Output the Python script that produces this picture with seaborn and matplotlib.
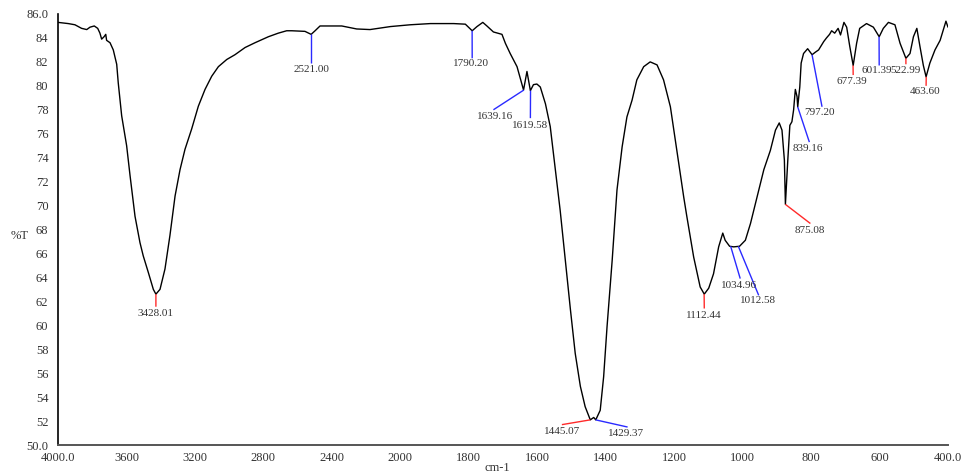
import numpy as np
import matplotlib
matplotlib.use("Agg")
import matplotlib.pyplot as plt
import seaborn as sns

# FT-IR transmission spectrum (wavenumber in cm-1, transmittance in %T)
wavenumber = [
    4000, 3940, 3901, 3862, 3832, 3813, 3788, 3768, 3755, 3745, 3731, 3721, 3716,
    3696, 3677, 3657, 3648, 3628, 3599, 3579, 3550, 3521, 3502, 3472, 3443, 3428,
    3404, 3375, 3346, 3316, 3287, 3258, 3219, 3180, 3141, 3102, 3063, 3014, 2966,
    2907, 2849, 2771, 2713, 2664, 2634, 2557, 2521, 2498, 2469, 2401, 2342, 2255,
    2177, 2058, 1971, 1912, 1844, 1810, 1790, 1776, 1759, 1747, 1728, 1703, 1693,
    1679, 1659, 1640, 1630, 1620, 1611, 1601, 1591, 1576, 1562, 1547, 1533, 1518,
    1503, 1489, 1474, 1460, 1445, 1435, 1429, 1416, 1406, 1396, 1381, 1367, 1352,
    1338, 1323, 1309, 1289, 1270, 1250, 1231, 1211, 1192, 1172, 1163, 1143, 1124,
    1112, 1099, 1085, 1070, 1058, 1051, 1038, 1026, 1009, 992, 977, 958, 938, 919,
    904, 893, 885, 878, 875, 868, 862, 856, 851, 846, 841, 839, 833, 829, 822, 810,
    797, 788, 778, 763, 755, 746, 740, 731, 721, 714, 704, 696, 687, 677, 667, 658,
    638, 618, 601, 589, 574, 555, 540, 523, 511, 501, 491, 482, 472, 464, 453, 438,
    423, 406, 400,
]
transmittance = [
    85.3, 85.2, 85.1, 84.8, 84.7, 84.9, 85.0, 84.8, 84.4, 83.9, 84.1, 84.3, 83.8,
    83.6, 83.0, 81.8, 80.25, 77.5, 75.0, 72.5, 69.1, 66.9, 65.8, 64.4, 63.0, 62.6,
    63.0, 64.7, 67.5, 70.8, 73.0, 74.7, 76.4, 78.3, 79.7, 80.8, 81.6, 82.2, 82.6,
    83.2, 83.6, 84.1, 84.4, 84.6, 84.6, 84.55, 84.3, 84.6, 85.0, 85.0, 85.0, 84.75,
    84.7, 84.95, 85.1, 85.2, 85.2, 85.15, 84.6, 84.95, 85.3, 85.0, 84.5, 84.3, 83.55,
    82.7, 81.6, 79.65, 81.2, 79.6, 80.1, 80.15, 79.9, 78.5, 76.6, 73.0, 69.6, 65.45,
    61.3, 57.65, 54.9, 53.2, 52.1, 52.3, 52.1, 52.9, 55.7, 59.9, 65.45, 71.3, 74.9,
    77.4, 78.8, 80.5, 81.6, 82.0, 81.75, 80.5, 78.25, 74.6, 70.7, 69.1, 65.7, 63.2,
    62.6, 63.1, 64.3, 66.55, 67.7, 67.1, 66.6, 66.55, 66.6, 67.1, 68.5, 70.7, 73.0, 74.6,
    76.3, 76.9, 76.3, 73.8, 70.1, 73.8, 76.7, 77.0, 78.0, 79.7, 79.1, 78.25, 79.9, 81.9, 82.7, 83.1,
    82.6, 82.8, 83.0, 83.7, 84.0, 84.3, 84.6, 84.4, 84.8, 84.25, 85.3, 84.9, 83.3, 81.7, 83.55, 84.8,
    85.2, 84.9, 84.1, 84.8, 85.3, 85.1, 83.55, 82.3, 82.7, 84.1, 84.8, 83.3, 81.7, 80.75, 81.9, 83.0,
    83.8, 85.4, 84.9,
]

# Labelled peaks: position text and transmittance at the peak
peak_labels = ["3428.01", "2521.00", "1790.20", "1639.16", "1619.58", "1445.07",
               "1429.37", "1112.44", "1034.96", "1012.58", "875.08", "839.16",
               "797.20", "677.39", "601.39", "522.99", "463.60"]
peak_T = [62.6, 84.3, 84.6, 79.65, 79.6, 52.1, 52.1, 62.6, 66.6, 66.6, 70.1,
          78.25, 82.6, 81.7, 84.1, 82.3, 80.75]
peak_color = ["r", "b", "b", "b", "b", "r", "b", "r", "b", "b", "r", "b", "b",
              "r", "b", "r", "r"]

# Leader-line end (wavenumber, %T) and label centre (wavenumber, %T)
leader_end = [(3428, 61.55), (2521, 81.9), (1790, 82.3), (1728, 78.0), (1620, 77.3),
              (1528, 51.7), (1336, 51.5), (1112, 61.4), (1007, 63.9), (953, 62.5),
              (802, 68.5), (805, 75.3), (768, 78.25), (677, 80.9), (601, 81.7),
              (523, 81.8), (464, 80.0)]
label_pos = [(3428, 61.0), (2521, 81.4), (1793, 81.9), (1722, 77.4), (1620, 76.7),
             (1528, 51.1), (1340, 51.0), (1114, 60.85), (1009, 63.3), (956, 62.05),
             (805, 67.95), (808, 74.8), (774, 77.8), (681, 80.4), (608, 81.3),
             (525, 81.3), (466, 79.5)]

x_ticks = [4000, 3600, 3200, 2800, 2400, 2000, 1800, 1600, 1400, 1200, 1000, 800, 600, 400]
x_ticklabels = ["4000.0", "3600", "3200", "2800", "2400", "2000", "1800", "1600",
                "1400", "1200", "1000", "800", "600", "400.0"]
y_ticks = list(range(50, 87, 2))
y_ticklabels = ["50.0"] + [str(v) for v in y_ticks[1:-1]] + ["86.0"]

sns.set_style("white")
plt.rcParams["font.family"] = ["Liberation Serif", "DejaVu Serif"]

fig = plt.figure(figsize=(9.63, 4.76), dpi=100)
ax = fig.add_axes([58 / 963, 31 / 476, 890 / 963, 431 / 476])

sns.lineplot(x=wavenumber, y=transmittance, ax=ax, sort=False, estimator=None,
             color="black", linewidth=1.0)


# Spectrometer-style axis: the region below 2000 cm-1 is expanded twofold
def _fwd(x):
    x = np.asarray(x, dtype=float)
    return np.where(x > 2000, 2000 + (x - 2000) / 2.0, x)


def _inv(u):
    u = np.asarray(u, dtype=float)
    return np.where(u > 2000, 2000 + 2.0 * (u - 2000), u)


ax.set_xscale("function", functions=(_fwd, _inv))
ax.set_xlim(4000, 400)
ax.set_ylim(50, 86)

colors = {"r": "#ff2a2a", "b": "#2a2aff"}
for lab, ty, c, (ex, ey), (lx, ly) in zip(peak_labels, peak_T, peak_color,
                                          leader_end, label_pos):
    px = float(lab)
    ax.plot([px, ex], [ty, ey], color=colors[c], lw=1.0, solid_capstyle="butt")
    ax.text(lx, ly, lab, ha="center", va="center", fontsize=8, color="#333333")

ax.set_xticks(x_ticks)
ax.set_xticklabels(x_ticklabels)
ax.set_yticks(y_ticks)
ax.set_yticklabels(y_ticklabels)
ax.minorticks_off()
ax.tick_params(axis="both", labelsize=9, labelcolor="#333333", color="#333333",
               length=3, width=1.0)
ax.tick_params(axis="x", direction="inout", length=4, pad=3)
ax.tick_params(axis="y", direction="out", pad=4)

for side in ("top", "right"):
    ax.spines[side].set_visible(False)
ax.spines["left"].set_color("black")
ax.spines["left"].set_linewidth(1.2)
ax.spines["bottom"].set_color("#555555")
ax.spines["bottom"].set_linewidth(1.4)

ax.set_xlabel("")
ax.set_ylabel("")
fig.text(20 / 963, 1 - 236 / 476, "%T", ha="center", va="center", fontsize=9,
         color="#333333")
fig.text(497 / 963, 1 - 468 / 476, "cm-1", ha="center", va="center", fontsize=9,
         color="#333333")

fig.savefig("out.png", dpi=100)
